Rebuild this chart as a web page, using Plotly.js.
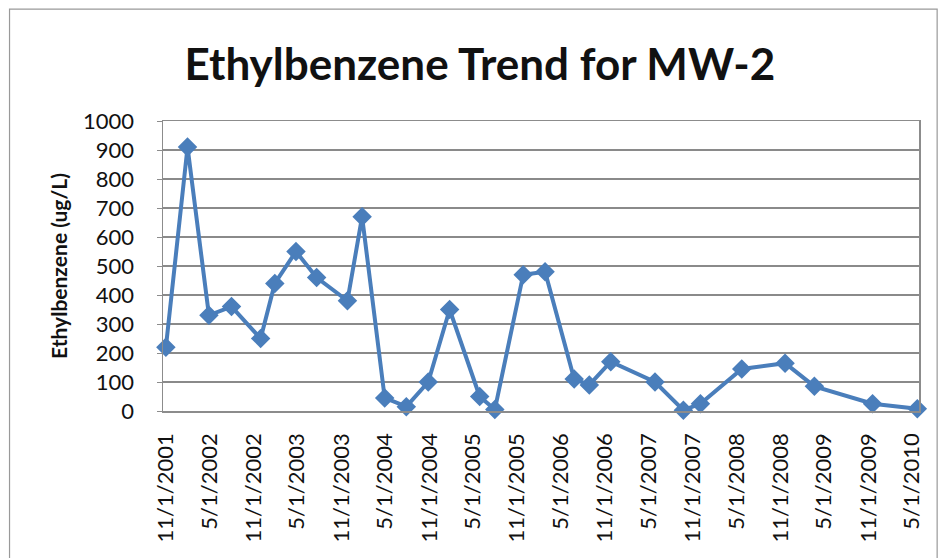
<!DOCTYPE html>
<html>
<head>
<meta charset="utf-8">
<script src="https://cdn.plot.ly/plotly-3.0.1.min.js"></script>
<style>
html,body{margin:0;padding:0;background:#fff;}
#chart{width:940px;height:558px;}
</style>
</head>
<body>
<div id="chart"></div>
<script>
const sampleDates = [
  "2001-11-01","2002-01-30","2002-04-29","2002-08-01","2002-11-30","2003-01-28",
  "2003-04-26","2003-07-21","2003-11-26","2004-01-26","2004-04-29","2004-07-28",
  "2004-10-27","2005-01-24","2005-05-29","2005-07-31","2005-11-26","2006-02-25",
  "2006-06-26","2006-08-28","2006-11-25","2007-05-28","2007-09-23","2007-12-03",
  "2008-05-23","2008-11-19","2009-03-21","2009-11-18","2010-05-23"
];
const ethylbenzene = [
  220, 910, 330, 360, 250, 440,
  550, 460, 380, 670, 45, 15,
  100, 350, 50, 5, 470, 480,
  110, 90, 170, 100, 3, 25,
  145, 165, 85, 25, 8
];
const tickDates = [
  "2001-11-01","2002-05-01","2002-11-01","2003-05-01","2003-11-01","2004-05-01",
  "2004-11-01","2005-05-01","2005-11-01","2006-05-01","2006-11-01","2007-05-01",
  "2007-11-01","2008-05-01","2008-11-01","2009-05-01","2009-11-01","2010-05-01"
];
const tickLabels = [
  "11/1/2001","5/1/2002","11/1/2002","5/1/2003","11/1/2003","5/1/2004",
  "11/1/2004","5/1/2005","11/1/2005","5/1/2006","11/1/2006","5/1/2007",
  "11/1/2007","5/1/2008","11/1/2008","5/1/2009","11/1/2009","5/1/2010"
];
const yTicks = [0,100,200,300,400,500,600,700,800,900,1000];

const FONT = "Lato, 'Open Sans', sans-serif";

const trace = {
  x: sampleDates,
  y: ethylbenzene,
  type: "scatter",
  mode: "lines+markers",
  line: {color: "#4a7ebb", width: 4},
  marker: {symbol: "diamond", size: 15, color: "#4a7ebb", line: {width: 0}},
  cliponaxis: false,
  hoverinfo: "x+y"
};

const layout = {
  width: 940,
  height: 558,
  margin: {l: 163, r: 21, t: 121, b: 147, pad: 0},
  paper_bgcolor: "#ffffff",
  plot_bgcolor: "#ffffff",
  showlegend: false,
  title: {
    text: "<b>Ethylbenzene Trend for MW-2</b>",
    font: {family: FONT, size: 44, color: "#111111"},
    x: 0.5106, xanchor: "center",
    y: 0.885, yanchor: "middle"
  },
  xaxis: {
    type: "date",
    range: ["2001-10-20", "2010-05-30"],
    tickvals: tickDates,
    ticktext: tickLabels,
    tickangle: -90,
    tickfont: {family: FONT, size: 22, color: "#111111"},
    ticklabelstandoff: 12,
    showgrid: false,
    showline: true,
    linecolor: "#8c8c8c",
    linewidth: 1.5,
    mirror: true,
    ticks: "",
    zeroline: false,
    fixedrange: true
  },
  yaxis: {
    range: [0, 1000],
    tickvals: yTicks,
    tickfont: {family: FONT, size: 22, color: "#111111"},
    ticklabelstandoff: 18,
    title: {text: "<b>Ethylbenzene (ug/L)</b>", font: {family: FONT, size: 21, color: "#111111"}, standoff: 9},
    showgrid: true,
    gridcolor: "#8a8a8a",
    gridwidth: 1.5,
    showline: true,
    linecolor: "#8c8c8c",
    linewidth: 1.5,
    mirror: true,
    ticks: "outside",
    ticklen: 5,
    tickcolor: "#8c8c8c",
    zeroline: false,
    fixedrange: true
  },
  shapes: [{
    type: "rect", xref: "paper", yref: "paper",
    x0: -0.203, x1: 1.024, y0: -0.52, y1: 1.386,
    line: {color: "#999999", width: 1.2}
  }]
};

Plotly.newPlot("chart", [trace], layout, {displayModeBar: false, staticPlot: true});
</script>
</body>
</html>
